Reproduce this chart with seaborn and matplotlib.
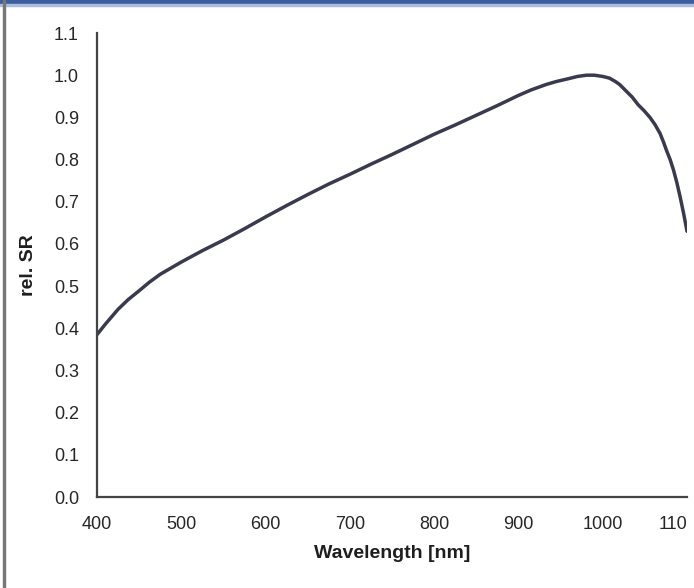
import matplotlib
matplotlib.use("Agg")
import matplotlib.pyplot as plt
import seaborn as sns
import pandas as pd
from matplotlib.patches import Rectangle

wavelength = [400, 410, 425, 437, 450, 462, 475, 500, 525, 550, 575, 600, 625, 650,
              675, 700, 725, 750, 775, 800, 825, 850, 875, 900, 915, 933, 945,
              960, 970, 981, 990, 1000, 1008, 1015, 1020, 1028, 1035, 1042, 1049,
              1056, 1062, 1068, 1072, 1076, 1080, 1084, 1088, 1092, 1096, 1100]
rel_sr = [0.385, 0.41, 0.445, 0.468, 0.489, 0.509, 0.528, 0.557, 0.584, 0.609,
          0.636, 0.664, 0.691, 0.717, 0.742, 0.765, 0.789, 0.812, 0.836, 0.860,
          0.882, 0.905, 0.928, 0.952, 0.965, 0.978, 0.985, 0.992, 0.997, 1.0,
          1.0, 0.997, 0.993, 0.985, 0.978, 0.962, 0.948, 0.93, 0.916, 0.90,
          0.883, 0.862, 0.842, 0.82, 0.80, 0.775, 0.745, 0.71, 0.672, 0.63]
x_ticks = [400, 500, 600, 700, 800, 900, 1000, 1100]
x_tick_labels = ["400", "500", "600", "700", "800", "900", "1000", "110"]
y_ticks = [0.0, 0.1, 0.2, 0.3, 0.4, 0.5, 0.6, 0.7, 0.8, 0.9, 1.0, 1.1]

df = pd.DataFrame({"Wavelength": wavelength, "SR": rel_sr})

sns.set_theme(style="white")
plt.rcParams['font.family'] = ['Liberation Sans', 'DejaVu Sans']

fig = plt.figure(figsize=(6.94, 5.88), dpi=100)
ax = fig.add_axes([97/694, (588-497)/588, 590/694, 464/588])

sns.lineplot(data=df, x="Wavelength", y="SR", ax=ax, color="#3a3a4e", linewidth=2.5)

ax.set_xlim(400, 1100)
ax.set_ylim(0.0, 1.1)
ax.set_xticks(x_ticks)
ax.set_xticklabels(x_tick_labels)
ax.set_yticks(y_ticks)
ax.set_yticklabels([f"{v:.1f}" for v in y_ticks])

for s in ["top", "right"]:
    ax.spines[s].set_visible(False)
for s in ["left", "bottom"]:
    ax.spines[s].set_color("#444444")
    ax.spines[s].set_linewidth(1.6)

ax.tick_params(axis="both", direction="in", length=4, width=1.4, color="#444444",
               labelsize=13, labelcolor="#262626")
ax.tick_params(axis="y", pad=13)
ax.tick_params(axis="x", pad=14)
# the last tick label sits at the right edge; right-align it so it stays inside
ax.get_xticklabels()[-1].set_horizontalalignment("right")

ax.set_xlabel("Wavelength [nm]", fontsize=14, fontweight="bold", color="#1e1e1e", labelpad=8)
ax.set_ylabel("rel. SR", fontsize=14, fontweight="bold", color="#1e1e1e", labelpad=12)

# frame decorations of the screenshot
fig.patches.append(Rectangle((0, 1 - 4/588), 1, 4/588, transform=fig.transFigure,
                             color="#3d5d9e", zorder=10))
fig.patches.append(Rectangle((0, 1 - 6/588), 1, 2/588, transform=fig.transFigure,
                             color="#a9bde0", zorder=10))
fig.patches.append(Rectangle((3/694, 0), 2/694, 1, transform=fig.transFigure,
                             color="#777777", zorder=10))

fig.savefig("out.png", dpi=100)
